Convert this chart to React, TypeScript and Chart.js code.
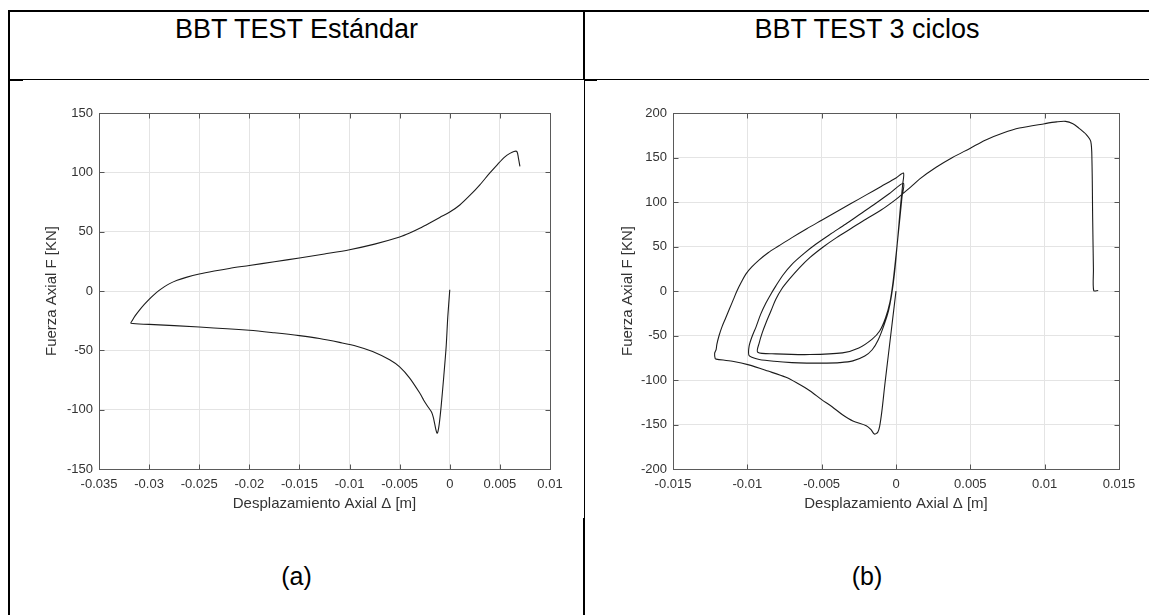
import React, { useEffect, useRef } from 'react';
import { Chart, registerables } from 'chart.js';
Chart.register(...registerables);

const headerA = 'BBT TEST Estándar';
const headerB = 'BBT TEST 3 ciclos';
const captionA = '(a)';
const captionB = '(b)';
const xAxisTitle = 'Desplazamiento Axial Δ [m]';
const yAxisTitle = 'Fuerza Axial F [KN]';

const xTicksA = [-0.035, -0.03, -0.025, -0.02, -0.015, -0.01, -0.005, 0, 0.005, 0.01];
const xTickLabelsA = ['-0.035', '-0.03', '-0.025', '-0.02', '-0.015', '-0.01', '-0.005', '0', '0.005', '0.01'];
const yTicksA = [-150, -100, -50, 0, 50, 100, 150];
const yTickLabelsA = ['-150', '-100', '-50', '0', '50', '100', '150'];

const xTicksB = [-0.015, -0.01, -0.005, 0, 0.005, 0.01, 0.015];
const xTickLabelsB = ['-0.015', '-0.01', '-0.005', '0', '0.005', '0.01', '0.015'];
const yTicksB = [-200, -150, -100, -50, 0, 50, 100, 150, 200];
const yTickLabelsB = ['-200', '-150', '-100', '-50', '0', '50', '100', '150', '200'];

// (a) BBT TEST Estándar
const dispA = [
  0, -0.0002, -0.00036, -0.0006, -0.00086, -0.00105, -0.00118, -0.00127, -0.00138, -0.00148,
  -0.00163, -0.0018, -0.0022, -0.0026, -0.003, -0.004, -0.005, -0.006, -0.0077, -0.0093,
  -0.011, -0.013, -0.015, -0.0175, -0.02, -0.025, -0.03, -0.0318,
  -0.03165, -0.0314, -0.031, -0.0305, -0.03, -0.0295, -0.029, -0.0285, -0.028, -0.0272,
  -0.0263, -0.025, -0.0235, -0.022, -0.02, -0.0175, -0.015, -0.0125, -0.01, -0.0075,
  -0.005, -0.004, -0.003, -0.002, -0.001, 0, 0.001, 0.002, 0.003, 0.004,
  0.0048, 0.0055, 0.006, 0.0064, 0.0067, 0.00685, 0.007,
];
const forceA = [
  1, -22, -46.7, -72, -97, -112, -118.5, -119.8, -117, -113,
  -107, -102.3, -97.3, -92, -86, -73.4, -64, -58, -51, -46.5,
  -43.3, -40, -37.6, -35.2, -33.1, -30.3, -28.1, -27.2,
  -24.5, -21, -16.5, -11.5, -7, -3, 0.5, 3.5, 6, 9,
  11.5, 14.3, 16.8, 19, 21.5, 24.7, 27.8, 31.2, 34.8, 39.5,
  45.5, 48.8, 52.8, 57.3, 62, 66.5, 72.5, 80.5, 89.5, 99.5,
  107, 113, 116, 117.6, 117.5, 112, 105,
];

// (b) BBT TEST 3 ciclos
const dispB = [
  // initial compression
  0, -0.00025, -0.0005, -0.00075, -0.00095, -0.0011, -0.00123, -0.00146, -0.00168, -0.002,
  -0.0029, -0.0036, -0.0043, -0.005, -0.0058, -0.0066, -0.0074, -0.0086, -0.0099, -0.011, -0.0121,
  -0.01216, -0.0122, -0.0121,
  // first tension
  -0.01205, -0.0119, -0.0117, -0.01145, -0.0112, -0.01095, -0.0107, -0.0104, -0.0101, -0.0097,
  -0.0092, -0.0086, -0.0079, -0.007, -0.006, -0.005, -0.004, -0.003, -0.002, -0.001, 0, 0.0005,
  // second compression
  0.00045, 0.0003, 0.00012, -0.0001, -0.0003, -0.0005, -0.0008, -0.0012, -0.0016, -0.0021,
  -0.0029, -0.0038, -0.0047, -0.006, -0.007, -0.0082, -0.0092, -0.0097, -0.0099,
  // second tension
  -0.00988, -0.0097, -0.0094, -0.0091, -0.00875, -0.0084, -0.0081, -0.0076, -0.007, -0.0062,
  -0.0054, -0.0044, -0.0034, -0.0024, -0.0014, -0.0004, 0.0005,
  // third compression
  0.0004, 0.00022, 0, -0.0002, -0.0004, -0.0007, -0.0011, -0.0016, -0.0025, -0.0036,
  -0.0058, -0.0081, -0.0093,
  // final tension to failure
  -0.0092, -0.009, -0.00875, -0.0084, -0.0081, -0.0077, -0.0072, -0.0065, -0.0058, -0.0049,
  -0.004, -0.003, -0.002, -0.001, 0, 0.0005, 0.001, 0.0016, 0.0027, 0.0038,
  0.005, 0.006, 0.0072, 0.0083, 0.01, 0.0108, 0.0114, 0.0119, 0.0123, 0.0128,
  0.0131, 0.01318, 0.01323, 0.01328, 0.0133, 0.0136,
];
const forceB = [
  0, -35, -70, -105, -135, -152, -158.8, -160.7, -155.8, -151.3,
  -146, -139, -130, -122, -112, -104, -97, -90, -83, -79, -76.5,
  -76, -70, -65.8,
  -60, -50, -40, -30, -20, -10, 0, 10, 19, 27,
  35, 43, 50.5, 60, 70, 79.5, 89, 98.5, 108, 117.5, 127, 132.6,
  120, 95, 60, 20, -5, -22, -38, -55, -66, -73,
  -78.5, -80.5, -81, -81, -80.5, -79, -77, -74.5, -72,
  -62, -52, -39.7, -26, -13.5, -3, 5.2, 18, 30, 42,
  52.5, 64, 75, 86.5, 98, 110, 121,
  105, 75, 40, 10, -12, -30, -45, -54, -64, -69.5,
  -71.4, -70.6, -68.8,
  -58.3, -47, -35.9, -22, -9.8, 2, 12.7, 26, 37.5, 49.5,
  60, 70.5, 81, 91, 103, 110, 117, 126, 139, 150,
  160.5, 169.5, 177.5, 183.1, 188, 190, 190.6, 188, 183, 175.7,
  168, 147, 80, 24, 0.5, 0.5,
];

const FONT = '"Liberation Sans", Arial, Helvetica, sans-serif';
const TEXT = '#333333';
const GRID = '#e4e4e4';

const boxPlugin = {
  id: 'matlabBox',
  afterDraw(chart: any) {
    const { ctx, chartArea: a, scales } = chart;
    const L = Math.round(a.left) + 0.5;
    const R = Math.round(a.right) + 0.5;
    const T = Math.round(a.top) + 0.5;
    const B = Math.round(a.bottom) + 0.5;
    const tl = 5;
    ctx.save();
    ctx.strokeStyle = '#555555';
    ctx.lineWidth = 1;
    ctx.beginPath();
    scales.x.ticks.forEach((t: any) => {
      const px = Math.round(scales.x.getPixelForValue(t.value)) + 0.5;
      ctx.moveTo(px, B); ctx.lineTo(px, B - tl);
      ctx.moveTo(px, T); ctx.lineTo(px, T + tl);
    });
    scales.y.ticks.forEach((t: any) => {
      const py = Math.round(scales.y.getPixelForValue(t.value)) + 0.5;
      ctx.moveTo(L, py); ctx.lineTo(L + tl, py);
      ctx.moveTo(R, py); ctx.lineTo(R - tl, py);
    });
    ctx.stroke();
    ctx.strokeStyle = '#5a5a5a';
    ctx.strokeRect(L, T, R - L, B - T);
    ctx.restore();
  },
};

function makeConfig(
  xs: number[], ys: number[],
  xTicks: number[], xLabels: string[], yTicks: number[], yLabels: string[],
  yWidth: number, rightPad: number, yTitlePad: number,
) {
  const data = xs.map((x, i) => ({ x, y: ys[i] }));
  const lab = (ticks: number[], labels: string[]) => (v: any) => {
    const i = ticks.findIndex((t) => Math.abs(t - Number(v)) < 1e-9);
    return i >= 0 ? labels[i] : '';
  };
  return {
    type: 'scatter',
    data: {
      datasets: [{
        data,
        showLine: true,
        borderColor: '#1c1c1c',
        borderWidth: 1.1,
        pointRadius: 0,
        pointHoverRadius: 0,
        tension: 0.3,
        fill: false,
      }],
    },
    options: {
      animation: false,
      responsive: false,
      events: [],
      layout: { padding: { left: 0, top: 31, right: rightPad, bottom: 13 } },
      plugins: { legend: { display: false }, tooltip: { enabled: false } },
      scales: {
        x: {
          type: 'linear',
          min: xTicks[0],
          max: xTicks[xTicks.length - 1],
          afterBuildTicks: (s: any) => { s.ticks = xTicks.map((v) => ({ value: v })); },
          afterFit: (s: any) => { s.height = 50; },
          grid: { color: GRID, drawTicks: false, lineWidth: 1 },
          border: { display: false },
          ticks: {
            callback: lab(xTicks, xLabels),
            autoSkip: false, maxRotation: 0, padding: 8,
            color: TEXT, font: { family: FONT, size: 13 },
          },
          title: {
            display: true, text: xAxisTitle, color: TEXT,
            font: { family: FONT, size: 15 }, padding: { top: 0, bottom: 6 },
          },
        },
        y: {
          type: 'linear',
          min: yTicks[0],
          max: yTicks[yTicks.length - 1],
          afterBuildTicks: (s: any) => { s.ticks = yTicks.map((v) => ({ value: v })); },
          afterFit: (s: any) => { s.width = yWidth; },
          grid: { color: GRID, drawTicks: false, lineWidth: 1 },
          border: { display: false },
          ticks: {
            callback: lab(yTicks, yLabels),
            autoSkip: false, padding: 6,
            color: TEXT, font: { family: FONT, size: 13 },
          },
          title: {
            display: true, text: yAxisTitle, color: TEXT,
            font: { family: FONT, size: 15 }, padding: { top: yTitlePad, bottom: 0 },
          },
        },
      },
    },
    plugins: [boxPlugin],
  };
}

function ChartCanvas(props: { cfg: () => any; left: number; top: number; width: number; height: number }) {
  const ref = useRef<HTMLCanvasElement | null>(null);
  useEffect(() => {
    if (!ref.current) return;
    const chart = new Chart(ref.current, props.cfg());
    return () => chart.destroy();
  }, []);
  return (
    <canvas
      ref={ref}
      width={props.width}
      height={props.height}
      style={{ position: 'absolute', left: props.left, top: props.top, width: props.width, height: props.height }}
    />
  );
}

const line = (left: number, top: number, width: number, height: number) => (
  <div style={{ position: 'absolute', left, top, width, height, background: '#000' }} />
);

export default function App() {
  const headerStyle: React.CSSProperties = {
    position: 'absolute', top: 16, fontFamily: FONT, fontSize: 27, lineHeight: '27px',
    color: '#000', textAlign: 'center', whiteSpace: 'nowrap',
  };
  const capStyle: React.CSSProperties = {
    position: 'absolute', top: 564, fontFamily: FONT, fontSize: 25, lineHeight: '25px',
    color: '#000', textAlign: 'center', whiteSpace: 'nowrap',
  };
  return (
    <div style={{ position: 'absolute', left: 0, top: 0, width: 1149, height: 615, background: '#fff', overflow: 'hidden' }}>
      {line(8, 10, 1141, 2)}
      {line(8, 10, 2, 605)}
      {line(8, 79, 1141, 1)}
      {line(583, 10, 2, 70)}
      {line(584, 80, 1, 438)}
      {line(583, 518, 2, 97)}
      {line(10, 79, 13, 2)}
      {line(585, 79, 12, 2)}
      <div style={{ ...headerStyle, left: 10, width: 573 }}>{headerA}</div>
      <div style={{ ...headerStyle, left: 585, width: 564 }}>{headerB}</div>
      <ChartCanvas
        left={10} top={82} width={572} height={450}
        cfg={() => makeConfig(dispA, forceA, xTicksA, xTickLabelsA, yTicksA, yTickLabelsA, 89, 32, 33)}
      />
      <ChartCanvas
        left={586} top={82} width={560} height={450}
        cfg={() => makeConfig(dispB, forceB, xTicksB, xTickLabelsB, yTicksB, yTickLabelsB, 87, 27, 32.5)}
      />
      <div style={{ ...capStyle, left: 10, width: 573 }}>{captionA}</div>
      <div style={{ ...capStyle, left: 585, width: 564 }}>{captionB}</div>
    </div>
  );
}
